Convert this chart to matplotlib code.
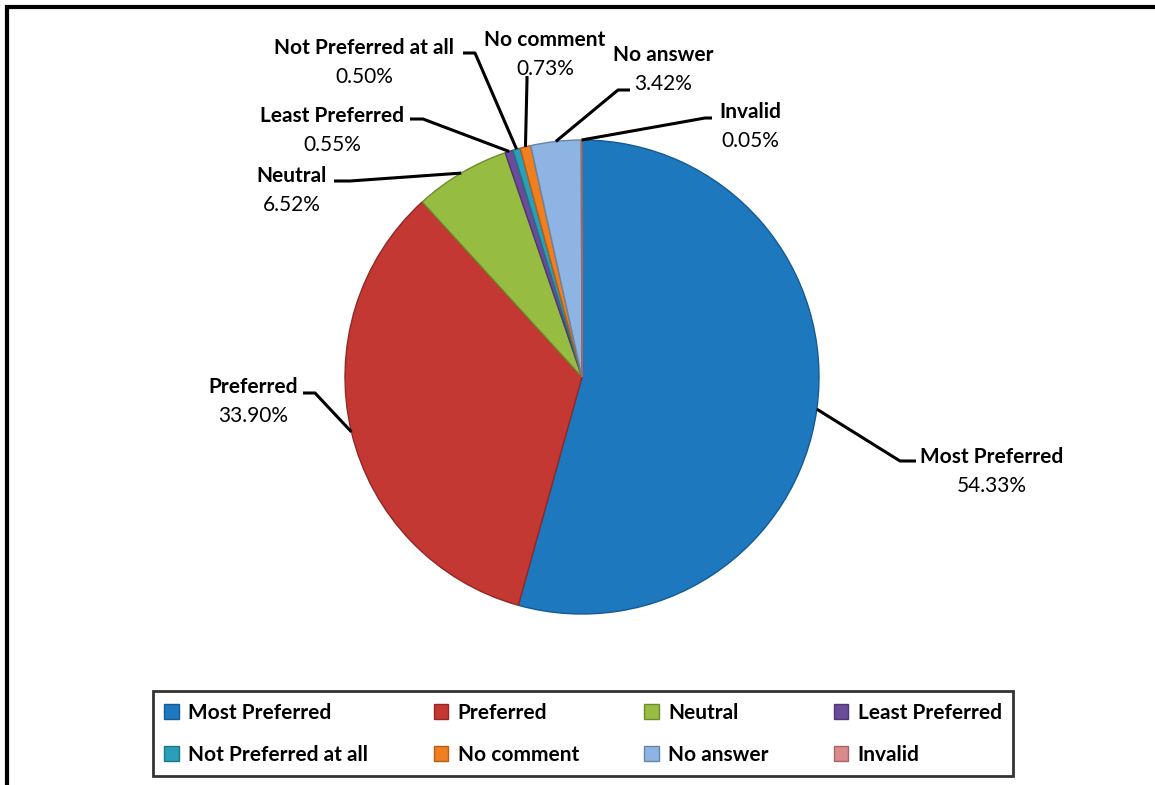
import numpy as np
import matplotlib.pyplot as plt
from matplotlib.patches import Rectangle

plt.rcParams['font.family'] = ['Lato', 'DejaVu Sans']

categories = ["Most Preferred", "Preferred", "Neutral", "Least Preferred",
              "Not Preferred at all", "No comment", "No answer", "Invalid"]
shares = [54.33, 33.90, 6.52, 0.55, 0.50, 0.73, 3.42, 0.05]
colors = ["#1E78BE", "#C43833", "#96BC41", "#6B4C9A",
          "#2AA0B8", "#F07F20", "#8DB4E2", "#D98B8B"]
edges = ["#155A92", "#922824", "#6E8C2E", "#4E3771",
         "#1D7689", "#B45E17", "#6585AA", "#A46767"]

# label layout in pixels: text centre, text-side end of leader, elbow
label_pos = [(992, 457), (253, 387), (292, 176), (332, 116),
             (364, 48), (545, 40), (663, 55), (750, 112)]
leader_start = [(916, 461), (303, 393), (334, 181), (410, 119),
                (463, 53), (527, 76), (630, 90), (712, 118)]
leader_elbow = [(900, 461), (315, 393), (350, 181), (423, 119),
                (475, 53), (527, 80), (618, 90), (705, 118)]

W, H = 1155, 785
cx, cy, r = 582, 377, 237
fs = 15

fig = plt.figure(figsize=(W / 100, H / 100), dpi=100)
ax = fig.add_axes([0, 0, 1, 1])

wedges, _ = ax.pie(shares, colors=colors, startangle=-90, counterclock=True,
                   center=(cx, cy), radius=r,
                   wedgeprops=dict(linewidth=1.0))
for w, e in zip(wedges, edges):
    w.set_edgecolor(e)

ax.set_xlim(0, W)
ax.set_ylim(H, 0)
ax.set_aspect('equal')
ax.axis('off')

for i, w in enumerate(wedges):
    th = np.deg2rad((w.theta1 + w.theta2) / 2)
    px, py = cx + r * np.cos(th), cy + r * np.sin(th)
    (sx, sy), (ex, ey) = leader_start[i], leader_elbow[i]
    ax.plot([sx, ex, px], [sy, ey, py], color='black', lw=2.2,
            solid_capstyle='butt', zorder=3)
    tx, ty = label_pos[i]
    ax.text(tx, ty, categories[i], ha='center', va='center',
            fontsize=fs, fontweight='bold')
    ax.text(tx, ty + 29, f"{shares[i]:.2f}%", ha='center', va='center',
            fontsize=fs)

# outer chart frame (runs off the right and bottom of the picture)
fig.patches.append(Rectangle((7 / W, -0.1), 1.2, 1 - 7 / H + 0.1,
                             transform=fig.transFigure, fill=False,
                             edgecolor='black', lw=3))

# legend filled row by row
order = [0, 4, 1, 5, 2, 6, 3, 7]
leg = fig.legend([wedges[k] for k in order], [categories[k] for k in order],
                 ncol=4, mode='expand', loc='lower left',
                 bbox_to_anchor=(153 / W, 1 - 776 / H, 860 / W, 88 / H),
                 borderaxespad=0, fontsize=fs, frameon=True, fancybox=False,
                 handlelength=0.7, handleheight=0.7, handletextpad=0.45,
                 labelspacing=1.05, borderpad=0.55, columnspacing=0.5)
leg.get_frame().set_edgecolor('black')
leg.get_frame().set_linewidth(2)
for t in leg.get_texts():
    t.set_fontweight('bold')

plt.savefig('out.png', dpi=100)
